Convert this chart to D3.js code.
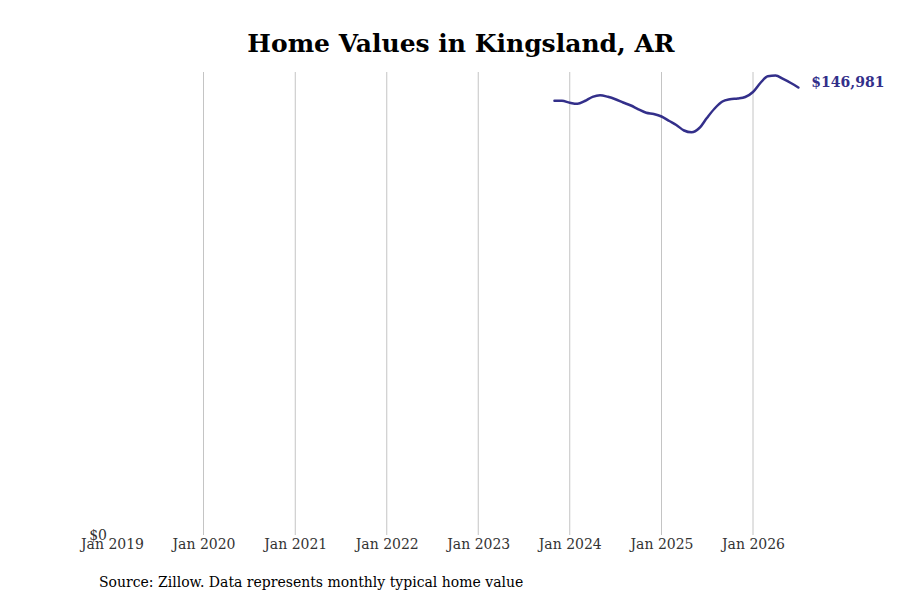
<!DOCTYPE html>
<html>
<head>
<meta charset="utf-8">
<script src="https://cdn.jsdelivr.net/npm/d3@7"></script>
<style>
  body { margin: 0; background: #fff; }
  svg text { font-family: "DejaVu Serif", serif; }
</style>
</head>
<body>
<svg id="chart" width="900" height="600"></svg>
<script>
// monthly typical home value, Nov 2023 - Jul 2026
const months = [
  "2023-11", "2023-12",
  "2024-01", "2024-02", "2024-03", "2024-04", "2024-05", "2024-06",
  "2024-07", "2024-08", "2024-09", "2024-10", "2024-11", "2024-12",
  "2025-01", "2025-02", "2025-03", "2025-04", "2025-05", "2025-06",
  "2025-07", "2025-08", "2025-09", "2025-10", "2025-11", "2025-12",
  "2026-01", "2026-02", "2026-03", "2026-04", "2026-05", "2026-06",
  "2026-07"
];
const values = [
  142650, 142620,
  141990, 141630, 142550, 143930, 144460, 143930,
  143140, 142060, 141070, 139830, 138710, 138280,
  137460, 135980, 134670, 132860, 132270, 133680,
  136970, 140090, 142390, 143110, 143370, 143870,
  145510, 148630, 150670, 150930, 149780, 148460,
  146981
];
const tickYears = [2019, 2020, 2021, 2022, 2023, 2024, 2025, 2026];

const svg = d3.select("#chart");
const margin = { top: 72, right: 102, bottom: 65, left: 112 };
const width = 900, height = 600;

const parse = d3.timeParse("%Y-%m");
const data = months.map((m, i) => ({ date: parse(m), value: values[i] }));

const x = d3.scaleTime()
  .domain([new Date(2019, 0, 1), new Date(2026, 0, 1)])
  .range([margin.left, 753]);

const y = d3.scaleLinear()
  .domain([0, 152076])
  .range([height - margin.bottom, margin.top]);

// vertical grid
svg.append("g")
  .selectAll("line")
  .data(tickYears.slice(1))
  .join("line")
  .attr("x1", d => x(new Date(d, 0, 1)))
  .attr("x2", d => x(new Date(d, 0, 1)))
  .attr("y1", margin.top)
  .attr("y2", height - margin.bottom)
  .attr("stroke", "#c4c4c4")
  .attr("stroke-width", 1);

// x axis labels
const xAxis = d3.axisBottom(x)
  .tickValues(tickYears.map(d => new Date(d, 0, 1)))
  .tickFormat(d3.timeFormat("Jan %Y"))
  .tickSize(0)
  .tickPadding(4);

svg.append("g")
  .attr("transform", `translate(0,${height - margin.bottom})`)
  .call(xAxis)
  .call(g => g.select(".domain").remove())
  .call(g => g.selectAll("text")
    .attr("fill", "#333")
    .style("font-size", "14px")
    .style("font-family", "DejaVu Serif"));

// y axis: only $0
const yAxis = d3.axisLeft(y)
  .tickValues([0])
  .tickFormat(d => "$" + d3.format(",")(d))
  .tickSize(0)
  .tickPadding(5);

svg.append("g")
  .attr("transform", `translate(${margin.left},0)`)
  .call(yAxis)
  .call(g => g.select(".domain").remove())
  .call(g => g.selectAll("text")
    .attr("fill", "#333")
    .style("font-size", "14px")
    .style("font-family", "DejaVu Serif"));

// line
const line = d3.line()
  .x(d => x(d.date))
  .y(d => y(d.value))
  .curve(d3.curveMonotoneX);

svg.append("path")
  .datum(data)
  .attr("fill", "none")
  .attr("stroke", "#332f8a")
  .attr("stroke-width", 2.5)
  .attr("stroke-linejoin", "round")
  .attr("stroke-linecap", "round")
  .attr("d", line);

// end label
const last = data[data.length - 1];
svg.append("text")
  .attr("x", x(last.date) + 13)
  .attr("y", y(last.value) - 1)
  .attr("fill", "#332f8a")
  .style("font-size", "14px")
  .style("font-weight", "bold")
  .text("$" + d3.format(",")(last.value));

// title
svg.append("text")
  .attr("x", 461)
  .attr("y", 52)
  .attr("text-anchor", "middle")
  .attr("fill", "#000")
  .style("font-size", "25px")
  .style("font-weight", "bold")
  .text("Home Values in Kingsland, AR");

// source
svg.append("text")
  .attr("x", 99)
  .attr("y", 587)
  .attr("fill", "#000")
  .style("font-size", "14px")
  .text("Source: Zillow. Data represents monthly typical home value");
</script>
</body>
</html>
